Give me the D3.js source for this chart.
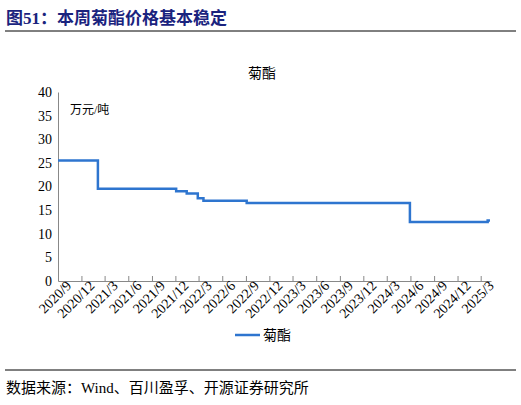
<!DOCTYPE html>
<html><head><meta charset="utf-8">
<script src="https://cdn.jsdelivr.net/npm/d3@7"></script>
<style>body{margin:0;background:#fff}</style>
</head><body>
<svg id="svg1" width="521" height="405"></svg>
<script>
// step points: date from which value applies
var stepDates = ["2020-09-01","2021-02-03","2021-12-04","2022-01-14","2022-02-26","2022-03-20","2022-09-04","2024-05-30","2025-03-28","2025-04-06"];
var stepValues = [25.5, 19.5, 19.0, 18.5, 17.5, 17.0, 16.5, 12.5, 12.8, 12.8];
var tickLabels = ["2020/9","2020/12","2021/3","2021/6","2021/9","2021/12","2022/3","2022/6","2022/9","2022/12","2023/3","2023/6","2023/9","2023/12","2024/3","2024/6","2024/9","2024/12","2025/3"];
var yTicks = [0,5,10,15,20,25,30,35,40];

var svg = d3.select("svg#svg1");
var cjk = "'Liberation Serif','Noto Sans CJK SC',serif";
var parse = d3.timeParse("%Y-%m-%d");
var data = stepDates.map(function(d, i) { return {date: parse(d), value: stepValues[i]}; });
var tickDates = tickLabels.map(function(t) { var p = t.split("/"); return new Date(+p[0], +p[1] - 1, 1); });

svg.append("text").attr("x", 6).attr("y", 24)
  .attr("font-family", cjk).attr("font-weight", "bold").attr("font-size", 17)
  .attr("fill", "#1a237e").text("图51：本周菊酯价格基本稳定");
svg.append("line").attr("x1", 5).attr("x2", 516).attr("y1", 31).attr("y2", 31)
  .attr("stroke", "#000").attr("stroke-width", 1);
svg.append("line").attr("x1", 5).attr("x2", 516).attr("y1", 370).attr("y2", 370)
  .attr("stroke", "#000").attr("stroke-width", 1);
svg.append("text").attr("x", 6).attr("y", 393)
  .attr("font-family", cjk).attr("font-size", 15)
  .text("数据来源：Wind、百川盈孚、开源证券研究所");

var x = d3.scaleTime().domain([tickDates[0], new Date(2025, 3, 10)]).range([58, 491]);
var y = d3.scaleLinear().domain([0, 40]).range([281, 92]);

svg.append("text").attr("x", 262).attr("y", 78).attr("text-anchor", "middle")
  .attr("font-family", cjk).attr("font-size", 14).text("菊酯");
svg.append("text").attr("x", 70).attr("y", 114)
  .attr("font-family", cjk).attr("font-size", 12).text("万元/吨");

var yAxis = svg.append("g").attr("transform", "translate(58,0)")
  .call(d3.axisLeft(y).tickValues(yTicks).tickSize(0).tickPadding(6));
yAxis.select(".domain").attr("stroke", "#888");
yAxis.selectAll("text").attr("font-family", "'Liberation Serif',serif").attr("font-size", 14).attr("fill", "#000");

var xAxis = svg.append("g").attr("transform", "translate(0,281)")
  .call(d3.axisBottom(x).tickValues(tickDates).tickSize(5).tickSizeOuter(0).tickFormat(function(d, i) { return tickLabels[i]; }));
xAxis.select(".domain").attr("stroke", "#888");
xAxis.selectAll(".tick line").attr("stroke", "#888").attr("transform", "translate(0,-5)");
xAxis.selectAll("text")
  .attr("font-family", "'Liberation Serif',serif").attr("font-size", 14).attr("fill", "#000")
  .attr("text-anchor", "end").attr("dx", "0.4em").attr("dy", "0.4em")
  .attr("transform", "rotate(-45)");

var line = d3.line().curve(d3.curveStepAfter)
  .x(function(d) { return x(d.date); }).y(function(d) { return y(d.value); });
svg.append("path").datum(data).attr("d", line)
  .attr("fill", "none").attr("stroke", "#2e75cf").attr("stroke-width", 2.5);

svg.append("line").attr("x1", 235).attr("x2", 260).attr("y1", 335).attr("y2", 335)
  .attr("stroke", "#2e75cf").attr("stroke-width", 2.5);
svg.append("text").attr("x", 263).attr("y", 340)
  .attr("font-family", cjk).attr("font-size", 14).text("菊酯");
</script>
</body></html>
